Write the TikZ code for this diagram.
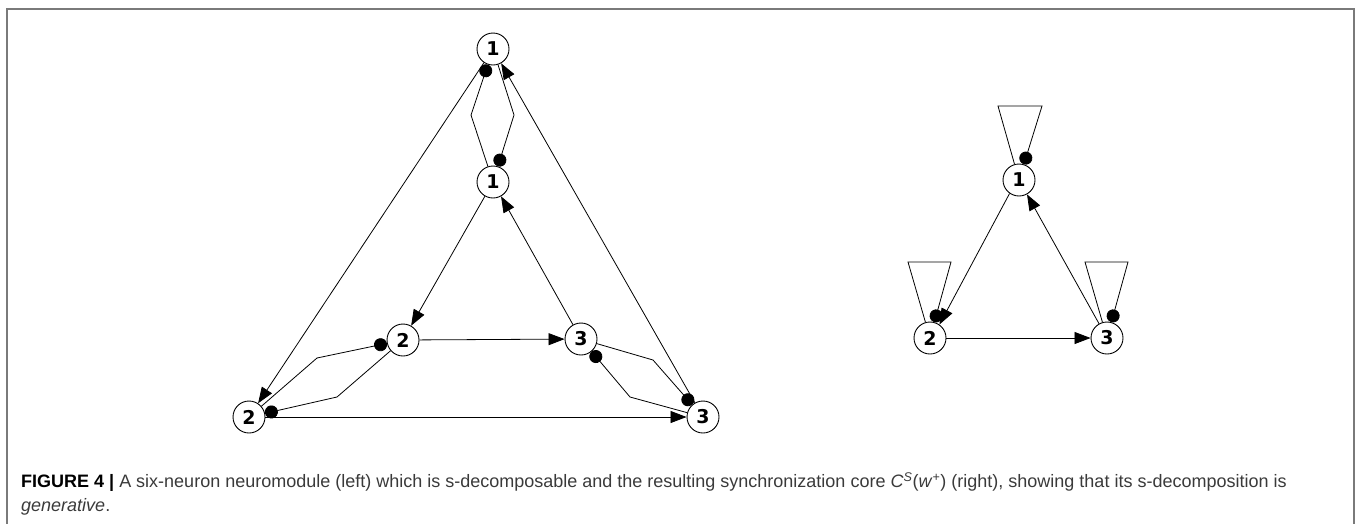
\documentclass[tikz,border=0pt]{standalone}
\usepackage{fontspec}
\setmainfont{Liberation Sans}
\newfontfamily\numfont{DejaVu Sans}
\usetikzlibrary{arrows.meta}
\definecolor{framegray}{HTML}{7A7A7A}
\definecolor{captext}{HTML}{3A3A3A}

\begin{document}
\begin{tikzpicture}[x=1pt,y=-1pt,
    neuron/.style={circle,draw,fill=white,line width=0.9pt,minimum size=32pt,inner sep=0pt,
        font=\numfont\bfseries\fontsize{19}{19}\selectfont},
    exc/.style={line width=0.8pt,-{Triangle[length=16pt,width=12pt]}},
    inh/.style={line width=0.8pt,-{Circle[length=13pt]}}]
        \useasboundingbox (0,0) rectangle (1360,523);
        \draw[framegray,line width=2pt] (7,540) -- (7,9) -- (1354,9) -- (1354,540);

        % six-neuron module
        \node[neuron] (t1) at (493,49) {1};
        \node[neuron] (i1) at (493,182) {1};
        \node[neuron] (i2) at (403,340) {2};
        \node[neuron] (i3) at (581,339) {3};
        \node[neuron] (o2) at (249,417) {2};
        \node[neuron] (o3) at (703,417) {3};
        \coordinate (a) at (471,115);
        \coordinate (b) at (514,115);
        \coordinate (c) at (317,358);
        \coordinate (d) at (337,397);
        \coordinate (e) at (653,360);
        \coordinate (f) at (630,397);
        \draw[exc] (t1) -- (o2);
        \draw[exc] (o2) -- (o3);
        \draw[exc] (o3) -- (t1);
        \draw[exc] (i1) -- (i2);
        \draw[exc] (i2) -- (i3);
        \draw[exc] (i3) -- (i1);
        \draw[inh] (i1) -- (a) -- (t1);
        \draw[inh] (t1) -- (b) -- (i1);
        \draw[inh] (o2) -- (c) -- (i2);
        \draw[inh] (i2) -- (d) -- (o2);
        \draw[inh] (i3) -- (e) -- (o3);
        \draw[inh] (o3) -- (f) -- (i3);

        % synchronization core
        \node[neuron] (r1) at (1019,180) {1};
        \node[neuron] (r2) at (930,338) {2};
        \node[neuron] (r3) at (1107,338) {3};
        \draw[exc] (r1.235) -- (r2.55);
        \draw[exc] (r2) -- (r3);
        \draw[exc] (r3) -- (r1);
        \draw[inh] (r1) -- (998,106) -- (1042,106) -- (r1);
        \draw[inh] (r2) -- (908,262) -- (951,262) -- (r2);
        \draw[inh] (r3) -- (1085,262) -- (1128,262) -- (r3);

        \node[anchor=north west,align=left,inner sep=0pt,text=captext,
            font=\fontsize{18}{24}\selectfont] (cap) at (21,472)
            {{\color{black}\bfseries FIGURE 4 |} A six-neuron neuromodule (left) which is s-decomposable and the resulting synchronization core \textit{C}\textsuperscript{\textit{S}}(\textit{w}\textsuperscript{+}) (right), showing that its s-decomposition is\\
            \textit{generative}.};
\end{tikzpicture}
\end{document}
